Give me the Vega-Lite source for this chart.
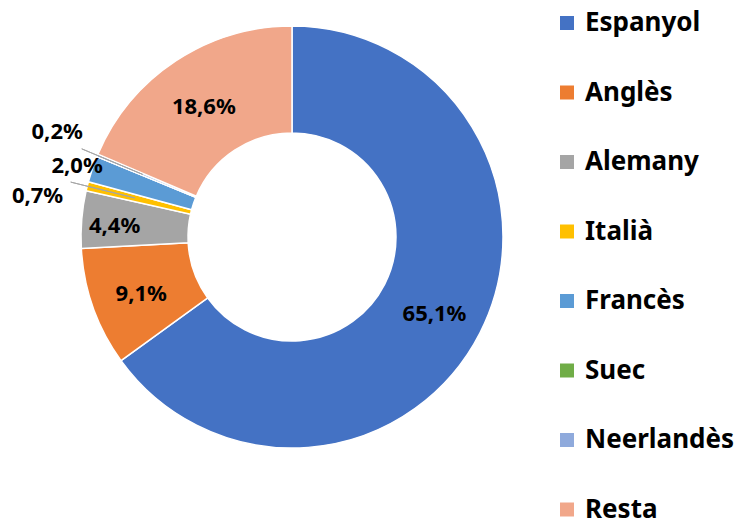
{
  "$schema": "https://vega.github.io/schema/vega-lite/v6.json",
  "autosize": "none",
  "width": 584,
  "height": 474,
  "padding": {"left": 0, "top": 0, "right": 157, "bottom": 46},
  "background": "white",
  "data": {
    "values": [
      {"lang": "Espanyol", "value": 65.1, "label": "65,1%", "idx": 1},
      {"lang": "Anglès", "value": 9.1, "label": "9,1%", "idx": 2},
      {"lang": "Alemany", "value": 4.4, "label": "4,4%", "idx": 3},
      {"lang": "Italià", "value": 0.7, "label": "0,7%", "idx": 4},
      {"lang": "Francès", "value": 2.0, "label": "2,0%", "idx": 5},
      {"lang": "Suec", "value": 0.0, "label": "", "idx": 6},
      {"lang": "Neerlandès", "value": 0.2, "label": "0,2%", "idx": 7},
      {"lang": "Resta", "value": 18.6, "label": "18,6%", "idx": 8}
    ]
  },
  "encoding": {
    "theta": {"field": "value", "type": "quantitative", "stack": true},
    "order": {"field": "idx", "type": "quantitative"}
  },
  "layer": [
    {
      "mark": {"type": "arc", "innerRadius": 104, "outerRadius": 211, "stroke": "white", "strokeWidth": 1.5},
      "encoding": {
        "color": {
          "field": "lang",
          "type": "nominal",
          "sort": ["Espanyol", "Anglès", "Alemany", "Italià", "Francès", "Suec", "Neerlandès", "Resta"],
          "scale": {
            "domain": ["Espanyol", "Anglès", "Alemany", "Italià", "Francès", "Suec", "Neerlandès", "Resta"],
            "range": ["#4472C4", "#ED7D31", "#A5A5A5", "#FFC000", "#5B9BD5", "#70AD47", "#8FAADC", "#F1A78A"]
          },
          "legend": {
            "title": null,
            "orient": "none",
            "legendX": 554,
            "legendY": 10,
            "symbolType": "square",
            "symbolSize": 196,
            "symbolStrokeWidth": 0,
            "labelFont": "Noto Sans",
            "labelFontSize": 26,
            "labelFontWeight": "bold",
            "labelColor": "black",
            "labelOffset": 5,
            "rowPadding": 43.5,
            "labelLimit": 300
          }
        }
      }
    },
    {
      "mark": {"type": "text", "radius": 160, "dy": 4, "font": "Noto Sans", "fontSize": 22, "fontWeight": "bold", "color": "black"},
      "encoding": {
        "text": {"condition": {"test": "datum.lang === 'Espanyol' || datum.lang === 'Anglès' || datum.lang === 'Resta'", "field": "label"}, "value": ""}
      }
    },
    {
      "mark": {"type": "text", "radius": 178, "dy": 4, "font": "Noto Sans", "fontSize": 22, "fontWeight": "bold", "color": "black"},
      "encoding": {
        "text": {"condition": {"test": "datum.lang === 'Alemany'", "field": "label"}, "value": ""}
      }
    },
    {
      "mark": {"type": "text", "radius": 258, "thetaOffset": -0.077, "dy": 2, "font": "Noto Sans", "fontSize": 22, "fontWeight": "bold", "color": "black"},
      "encoding": {
        "text": {"condition": {"test": "datum.lang === 'Italià'", "field": "label"}, "value": ""}
      }
    },
    {
      "mark": {"type": "text", "radius": 227, "dy": 2, "font": "Noto Sans", "fontSize": 22, "fontWeight": "bold", "color": "black"},
      "encoding": {
        "text": {"condition": {"test": "datum.lang === 'Francès'", "field": "label"}, "value": ""}
      }
    },
    {
      "mark": {"type": "text", "radius": 258, "thetaOffset": 0.03, "dy": 2, "font": "Noto Sans", "fontSize": 22, "fontWeight": "bold", "color": "black"},
      "encoding": {
        "text": {"condition": {"test": "datum.lang === 'Neerlandès'", "field": "label"}, "value": ""}
      }
    },
    {
      "transform": [
        {"window": [{"op": "sum", "field": "value", "as": "cum"}], "sort": [{"field": "idx"}], "frame": [null, 0]},
        {"calculate": "datum.cum - datum.value / 2", "as": "mid"},
        {"filter": "datum.lang === 'Italià' || datum.lang === 'Neerlandès'"}
      ],
      "mark": {"type": "arc", "radius": 228, "radius2": 162, "fill": null, "stroke": "#A6A6A6", "strokeWidth": 1},
      "encoding": {
        "theta": {"field": "mid", "type": "quantitative", "stack": null},
        "theta2": {"field": "mid"}
      }
    }
  ]
}
